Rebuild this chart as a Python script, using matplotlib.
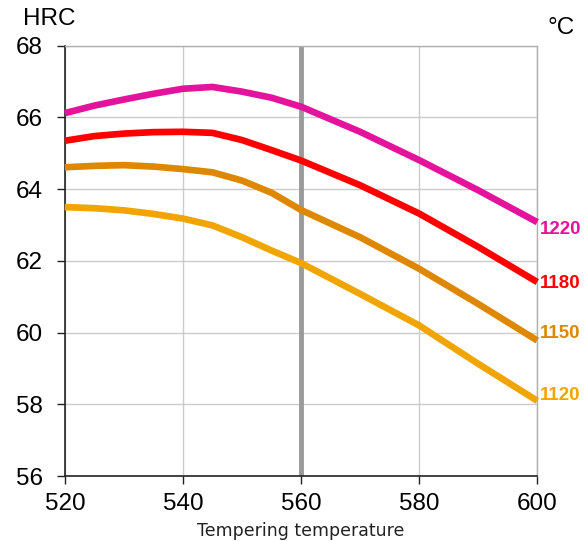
import matplotlib
matplotlib.use('Agg')
import matplotlib.pyplot as plt

# ----------------------- data ------------------------
temps = [520, 525, 530, 535, 540, 545, 550, 555, 560, 570, 580, 590, 600]
hrc_1220 = [66.12, 66.33, 66.50, 66.66, 66.80, 66.85, 66.72, 66.55, 66.30, 65.60, 64.81, 63.97, 63.08]
hrc_1180 = [65.35, 65.48, 65.55, 65.59, 65.60, 65.57, 65.37, 65.09, 64.80, 64.11, 63.32, 62.39, 61.41]
hrc_1150 = [64.61, 64.65, 64.67, 64.63, 64.56, 64.47, 64.24, 63.90, 63.42, 62.66, 61.78, 60.80, 59.78]
hrc_1120 = [63.50, 63.47, 63.41, 63.31, 63.18, 62.99, 62.66, 62.29, 61.94, 61.08, 60.20, 59.13, 58.10]
series = [
    ('1220', hrc_1220, '#e4139b'),
    ('1180', hrc_1180, '#ff0000'),
    ('1150', hrc_1150, '#de8700'),
    ('1120', hrc_1120, '#f0a500'),
]
x_ticks = [520, 540, 560, 580, 600]
y_ticks = [56, 58, 60, 62, 64, 66, 68]
marker_temp = 560

# vertical nudges (points) for the end labels
label_dy = [-5, -1, 5, 4]

plt.rcParams['font.family'] = ['Liberation Sans', 'DejaVu Sans']

fig = plt.figure(figsize=(5.84, 5.41), dpi=100)
ax = fig.add_axes([0.111, 0.120, 0.809, 0.7955])

# --------------------- grid & axes --------------------
ax.set_xlim(520, 600)
ax.set_ylim(56, 68)
ax.set_xticks(x_ticks)
ax.set_yticks(y_ticks)
ax.grid(True, color='#cccccc', linewidth=1.0)
ax.set_axisbelow(True)
for side in ('top', 'right'):
    ax.spines[side].set_color('#b0b0b0')
    ax.spines[side].set_linewidth(1.0)
for side in ('left', 'bottom'):
    ax.spines[side].set_color('#222222')
    ax.spines[side].set_linewidth(1.2)
ax.tick_params(axis='both', direction='out', length=6, width=1.0, color='#222222',
               labelsize=17.5)
ax.tick_params(axis='x', pad=6)
ax.tick_params(axis='y', pad=10)

ax.axvline(marker_temp, color='#9a9a9a', linewidth=3.5, zorder=2)

# --------------------------- curves -------------------------
for (name, vals, col), dy in zip(series, label_dy):
    ax.plot(temps, vals, color=col, linewidth=4.8, solid_capstyle='butt', zorder=3,
            clip_on=False)
    ax.annotate(name, xy=(temps[-1], vals[-1]), xytext=(2, dy), textcoords='offset points',
                color=col, fontsize=13.5, fontweight='bold', va='center', ha='left')

fig.text(0.040, 0.965, 'HRC', fontsize=17.5, ha='left', va='center')
fig.text(0.937, 0.948, '°C', fontsize=17.5, ha='left', va='center')
ax.set_xlabel('Tempering temperature', fontsize=12.5, labelpad=5, color='#222222',
              family=['DejaVu Sans'])

fig.savefig('out.png', dpi=100)
